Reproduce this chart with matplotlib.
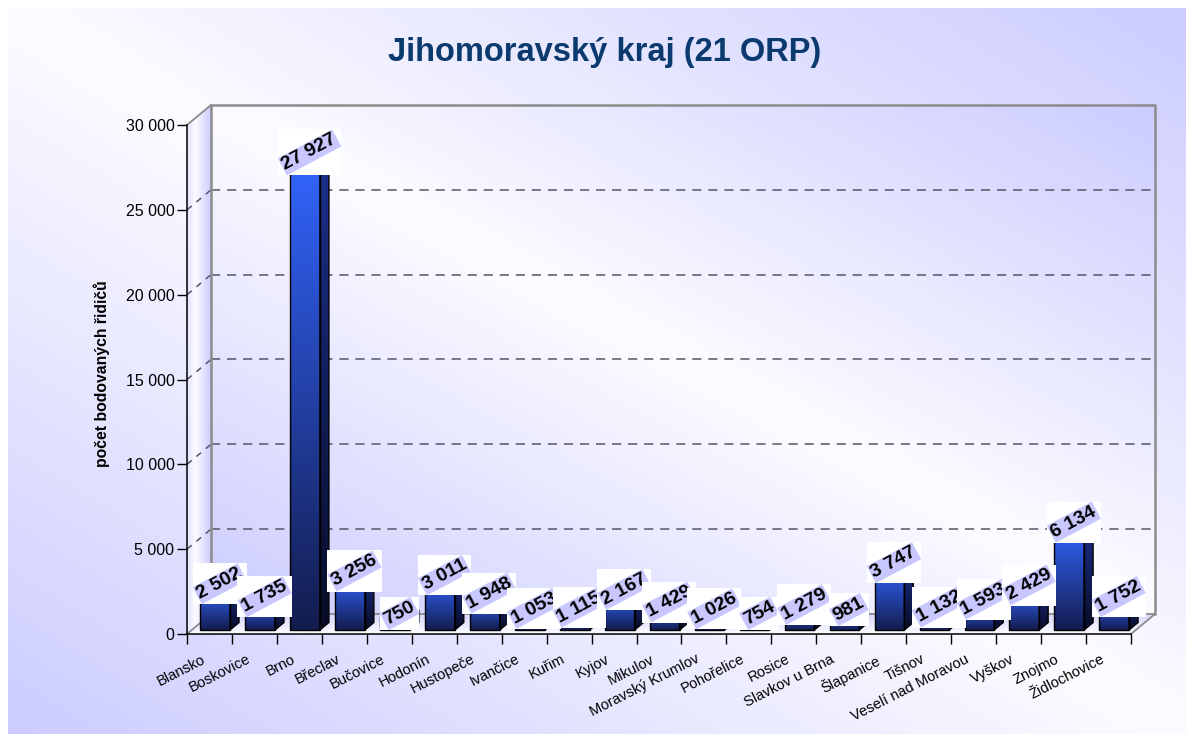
import numpy as np
import matplotlib
matplotlib.use('Agg')
import matplotlib.pyplot as plt
from matplotlib.colors import to_rgb
from matplotlib.patches import Polygon, Rectangle
from matplotlib.ticker import FuncFormatter
from matplotlib.transforms import ScaledTranslation

plt.rcParams['font.family'] = ['Liberation Sans', 'DejaVu Sans']

# počet bodovaných řidičů podle ORP
orp = ['Blansko', 'Boskovice', 'Brno', 'Břeclav', 'Bučovice', 'Hodonín', 'Hustopeče',
       'Ivančice', 'Kuřim', 'Kyjov', 'Mikulov', 'Moravský Krumlov', 'Pohořelice',
       'Rosice', 'Slavkov u Brna', 'Šlapanice', 'Tišnov', 'Veselí nad Moravou',
       'Vyškov', 'Znojmo', 'Židlochovice']
ridici = [2502, 1735, 27927, 3256, 750, 3011, 1948, 1053, 1115, 2167, 1429, 1026,
          754, 1279, 981, 3747, 1132, 1593, 2429, 6134, 1752]
y_ticks = [0, 5000, 10000, 15000, 20000, 25000, 30000]
y_max = 30000

W, H = 1194, 742
LAV = np.array(to_rgb('#ccccff'))
WHITE = np.array(to_rgb('#fcfcff'))
GRID = '#555566'
EDGE = '#8c8c8c'


def fmt(v):
    return f'{int(v):,}'.replace(',', ' ')


def diag_image(n=300):
    u = np.linspace(0, 1, n)
    xx, yy = np.meshgrid(u, u)
    t = np.abs(xx - yy)[..., None]
    return WHITE * (1 - t) + LAV * t


def ramp(c0, c1, n=256):
    t = np.linspace(0, 1, n)[:, None, None]
    img = np.array(to_rgb(c0)) * (1 - t) + np.array(to_rgb(c1)) * t
    return np.repeat(img, 2, axis=1)


fig = plt.figure(figsize=(W / 100, H / 100), dpi=100, facecolor='white')

# background of the chart area
bg = fig.add_axes([8 / W, 8 / H, 1178 / W, 726 / H])
bg.imshow(diag_image(), aspect='auto', extent=[0, 1, 0, 1], interpolation='bilinear')
bg.set_axis_off()

ax = fig.add_axes([187 / W, 1 - 634 / H, 944 / W, 509 / H])
ax.patch.set_alpha(0)
n = len(orp)
dx = 24 / 944 * n           # depth of the 3d box in category units
dy = 20 / 509 * y_max       # depth in value units


def gradient_poly(xy, img, extent, zorder, edge=None, lw=0.8):
    poly = Polygon(xy, closed=True, facecolor='none',
                   edgecolor=edge if edge else 'none', lw=lw,
                   transform=ax.transData, zorder=zorder + 0.05, clip_on=False)
    im = ax.imshow(img, extent=extent, origin='lower', aspect='auto',
                   interpolation='bilinear', zorder=zorder)
    im.set_clip_box(fig.bbox)
    im.set_clip_path(poly)
    if edge:
        ax.add_patch(poly)
    return poly


# back wall
gradient_poly([(dx, dy), (n + dx, dy), (n + dx, y_max + dy), (dx, y_max + dy)],
              diag_image()[::-1], [dx, n + dx, dy, y_max + dy], 0.5)
# side wall
side = np.linspace(0, 1, 64)
t = np.clip(np.abs(side - 0.35) / 0.65, 0, 1)[None, :, None]
side_img = np.repeat(WHITE * (1 - t) + LAV * t, 2, axis=0)
gradient_poly([(0, 0), (dx, dy), (dx, y_max + dy), (0, y_max)],
              side_img, [0, dx, 0, y_max + dy], 0.5)
# floor
gradient_poly([(0, 0), (n, 0), (n + dx, dy), (dx, dy)],
              ramp('#fcfcff', '#d6d6ff'), [0, n + dx, 0, dy], 0.5)

# back-wall grid and the depth part on the side wall
for v in y_ticks[1:-1]:
    ax.plot([dx, n + dx], [v + dy, v + dy], color=GRID, lw=1.1,
            ls=(0, (6, 4.5)), clip_on=False, zorder=1)
    ax.plot([0, dx], [v, v + dy], color=GRID, lw=1.1,
            ls=(0, (4, 4)), clip_on=False, zorder=1)

# box edges
ax.plot([dx, dx, n + dx, n + dx], [dy, y_max + dy, y_max + dy, dy], color=EDGE,
        lw=1.8, clip_on=False, zorder=1.2)
ax.plot([0, dx, n + dx, n], [0, dy, dy, 0], color=EDGE, lw=1.3, clip_on=False, zorder=1.2)
ax.plot([0, dx], [y_max, y_max + dy], color=EDGE, lw=1.3, clip_on=False, zorder=1.2)

# bars
f0, f1 = 0.2, 0.575
bw = 0.66
xc = np.arange(n) + 0.52 + f0 * dx
base = f0 * dy
ddx, ddy = (f1 - f0) * dx, (f1 - f0) * dy
bars = ax.bar(xc, ridici, width=bw, bottom=base, color='none',
              edgecolor='black', lw=1.0, zorder=3.2)
for b, v in zip(bars, ridici):
    x0, x1 = b.get_x(), b.get_x() + b.get_width()
    im = ax.imshow(ramp('#131c4e', '#3366ff'), extent=[x0, x1, base, base + v],
                   origin='lower', aspect='auto', interpolation='bilinear', zorder=3)
    im.set_clip_path(b)
    gradient_poly([(x1, base), (x1 + ddx, base + ddy), (x1 + ddx, base + v + ddy),
                   (x1, base + v)],
                  ramp('#080c26', '#1c3190'), [x1, x1 + ddx, base, base + v + ddy],
                  3, edge='black', lw=1.0)
    gradient_poly([(x0, base + v), (x1, base + v), (x1 + ddx, base + v + ddy),
                   (x0 + ddx, base + v + ddy)],
                  ramp('#2a4fd6', '#3a60f0'), [x0, x1 + ddx, base + v, base + v + ddy],
                  3, edge='black', lw=1.0)

# axes, ticks
ax.set_xlim(0, n)
ax.set_ylim(0, y_max)
for s in ('top', 'right'):
    ax.spines[s].set_visible(False)
for s in ('left', 'bottom'):
    ax.spines[s].set_linewidth(1.1)
    ax.spines[s].set_zorder(2)

ax.set_yticks(y_ticks)
ax.yaxis.set_major_formatter(FuncFormatter(lambda v, p: fmt(v)))
ax.tick_params(axis='y', length=7.5, width=1, labelsize=11.5, pad=1.5)
ax.set_xticks(np.arange(n + 1))
ax.set_xticklabels([])
ax.set_xticks(np.arange(n) + 0.5, orp, minor=True)
ax.tick_params(axis='x', which='major', length=7.5, width=1)
ax.tick_params(axis='x', which='minor', length=0, labelsize=10.5, pad=13)
shift = ScaledTranslation(-6 / 72, 0, fig.dpi_scale_trans)
for lbl in ax.get_xticklabels(minor=True):
    lbl.set_rotation(27)
    lbl.set_ha('right')
    lbl.set_va('top')
    lbl.set_rotation_mode('anchor')
    lbl.set_transform(lbl.get_transform() + shift)

fig.text(102 / W, 1 - 374 / H, 'počet bodovaných řidičů', rotation=90,
         ha='center', va='center', fontsize=11.3, fontweight='bold')
fig.text(605 / W, 1 - 53 / H, 'Jihomoravský kraj (21 ORP)', ha='center', va='center',
         fontsize=23.5, fontweight='bold', color='#0b3a6e')

# value labels on top of each bar, each over a white backing box
fm = (f0 + f1) / 2
labels = []
for i, v in enumerate(ridici):
    t = ax.text(i + 0.52 + fm * dx, v + fm * dy, fmt(v), rotation=28,
                rotation_mode='default', ha='center', va='center', fontsize=14,
                fontweight='bold', zorder=10 + 2 * i, clip_on=False,
                bbox=dict(boxstyle='square,pad=0.06', facecolor='#c8c8ff',
                          edgecolor='none'))
    labels.append(t)

fig.canvas.draw()
inv = ax.transData.inverted()
for i, t in enumerate(labels):
    ext = t.get_bbox_patch().get_window_extent()
    (xa, ya), (xb, yb) = inv.transform([(ext.x0, ext.y0), (ext.x1, ext.y1)])
    ax.add_patch(Rectangle((xa, ya), xb - xa, yb - ya, facecolor='white',
                           edgecolor='none', zorder=9 + 2 * i, clip_on=False))

fig.savefig('out.png', dpi=100, facecolor='white')
